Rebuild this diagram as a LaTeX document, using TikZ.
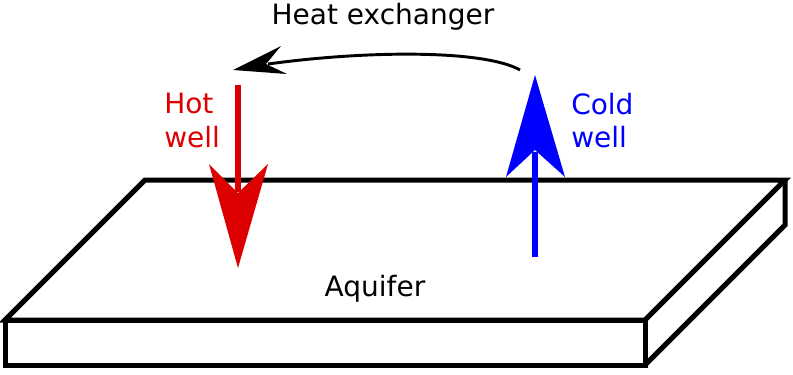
\documentclass[tikz,border=0pt]{standalone}
\usepackage{fontspec}
\setmainfont{DejaVu Sans}
\definecolor{hotred}{HTML}{DD0000}
\definecolor{coldblue}{HTML}{0000FF}
\begin{document}
\begin{tikzpicture}[x=0.75pt,y=-0.75pt,
  boxline/.style={line width=3.75pt,line join=miter},
  lbl/.style={inner sep=0pt,font=\fontsize{21}{25}\selectfont},
  shaft/.style={line width=4.5pt}]
\useasboundingbox (0,0) rectangle (793,375);
% aquifer slab
\coordinate (fl) at (5,320);
\coordinate (bl) at (145,180);
\coordinate (br) at (785,180);
\coordinate (fr) at (645,320);
\coordinate (frb) at (645,365);
\coordinate (flb) at (5,365);
\coordinate (brb) at (785,225);
\draw[boxline] (fl) -- (bl) -- (br) -- (fr) -- cycle;
\draw[boxline] (fl) -- (fr) -- (frb) -- (flb) -- cycle;
\draw[boxline] (br) -- (brb) -- (frb);
% hot well arrow
\coordinate (hs) at (238,85);
\coordinate (hn) at (238,192);
\draw[hotred,shaft] (hs) -- (hn);
\fill[hotred] (238,268) -- (209,164) -- (238,193) -- (268,164) -- cycle;
% cold well arrow
\coordinate (cs) at (535,257);
\coordinate (cn) at (535,152);
\draw[coldblue,shaft] (cs) -- (cn);
\fill[coldblue] (535,75) -- (565,177) -- (535,150) -- (506,177) -- cycle;
% heat exchanger arrow
\coordinate (hx1) at (520,70);
\coordinate (hx2) at (268,64);
\draw[line width=2.2pt] (hx1) .. controls (485,50) and (370,50) .. (hx2);
\fill (233,70) -- (281,46) -- (266,64) -- (287,74) -- cycle;
% labels
\node[lbl,anchor=base] (hx) at (383,24) {Heat exchanger};
\node[lbl,anchor=base] (aq) at (375,296) {Aquifer};
\node[lbl,anchor=north west,align=left,text=hotred] (hot) at (164,93) {Hot\\well};
\node[lbl,anchor=north west,align=left,text=coldblue] (cold) at (571,93) {Cold\\well};
\end{tikzpicture}
\end{document}
